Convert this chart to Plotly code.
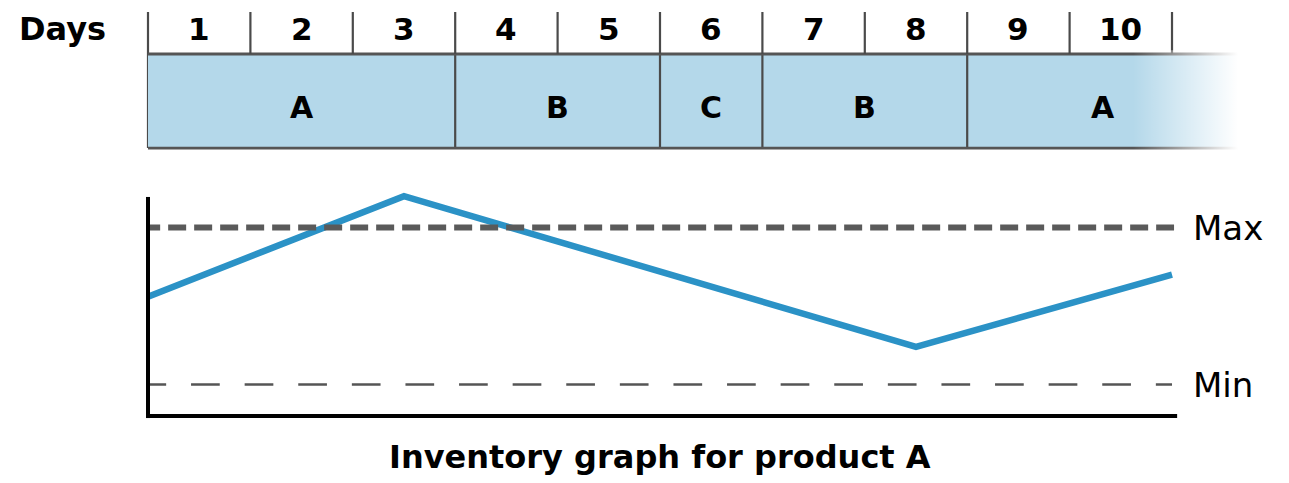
import plotly.graph_objects as go

# Production schedule (days are 1-based; runs use day boundaries)
days = list(range(1, 11))
run_products = ["A", "B", "C", "B", "A"]
run_start = [0, 3, 5, 6, 8]
run_end = [3, 5, 6, 8, 10.66]   # last run continues past the visible window

# Inventory level of product A over the 10 days
inv_day = [0, 2.5, 7.5, 10]
inv_level = [76, 140, 44, 90]
inv_max = 120
inv_min = 20

X_END = 10.664          # right edge of the view (schedule fades out)
FADE_START = 9.62
Y_RNG = [0, 145]
Y_DOM = [0.1387, 0.6101]
BLOCK_FILL = "#b4d8ea"
EDGE = "#4a4a4a"
BOLD = dict(family="DejaVu Sans", weight="bold", color="#000")


def ypaper(v):
    """Map an inventory value onto paper coordinates of the lower graph."""
    return Y_DOM[0] + (v - Y_RNG[0]) / (Y_RNG[1] - Y_RNG[0]) * (Y_DOM[1] - Y_DOM[0])


def xref_for(d):
    # lines sitting on the left edge use paper refs so they are not half clipped
    return "paper" if d == 0 else "x"


fig = go.Figure()

# inventory curve
fig.add_trace(go.Scatter(
    x=inv_day, y=inv_level, mode="lines",
    line=dict(color="#2b92c6", width=6.5),
    hoverinfo="skip", showlegend=False,
))

# Max / Min reference lines (started slightly left of the axis so the
# dash pattern is cut by the plot edge)
fig.add_trace(go.Scatter(
    x=[-0.057, 10.02], y=[inv_max, inv_max], mode="lines",
    line=dict(color="#5a5a5a", width=6, dash="18px,8px"),
    hoverinfo="skip", showlegend=False,
))
fig.add_trace(go.Scatter(
    x=[-0.103, 10.0], y=[inv_min, inv_min], mode="lines",
    line=dict(color="#555555", width=2.5, dash="28.7px,24.9px"),
    hoverinfo="skip", showlegend=False,
))

shapes = []

# schedule blocks
for p, s, e in zip(run_products, run_start, run_end):
    shapes.append(dict(type="rect", xref="x", yref="y2", x0=s, x1=e, y0=0, y1=1,
                       fillcolor=BLOCK_FILL, line=dict(width=0), layer="below"))
# run boundaries through the block
for s in run_start:
    shapes.append(dict(type="line", xref=xref_for(s), yref="y2", x0=s, x1=s, y0=0, y1=1,
                       line=dict(color=EDGE, width=2.2), layer="below"))
# top and bottom borders of the block row
for yb in (0, 1):
    shapes.append(dict(type="line", xref="x", yref="y2", x0=0, x1=X_END, y0=yb, y1=yb,
                       line=dict(color="#555555", width=2.8), layer="below"))
# day ticks in the header row
for d in [0] + days:
    shapes.append(dict(type="line", xref=xref_for(d), yref="y2", x0=d, x1=d, y0=1, y1=1.447,
                       line=dict(color=EDGE, width=2.2), layer="below"))

# white fade over the right end of the schedule row
fig.add_trace(go.Scatter(
    x=[FADE_START, X_END, X_END, FADE_START, FADE_START],
    y=[-0.04, -0.04, 1.04, 1.04, -0.04],
    xaxis="x", yaxis="y2", mode="lines", fill="toself",
    line=dict(width=0),
    fillgradient=dict(type="horizontal", start=FADE_START, stop=X_END - 0.02,
                      colorscale=[[0, "rgba(255,255,255,0)"], [1, "rgba(255,255,255,1)"]]),
    hoverinfo="skip", showlegend=False,
))

# axes of the inventory graph
shapes.append(dict(type="line", xref="paper", yref="paper", x0=0, x1=0,
                   y0=ypaper(-1.3), y1=ypaper(139.5),
                   line=dict(color="#000", width=4)))
shapes.append(dict(type="line", xref="x", yref="paper", x0=0, x1=10.05,
                   y0=ypaper(0), y1=ypaper(0),
                   line=dict(color="#000", width=4)))

annotations = []
annotations.append(dict(text="Days", xref="paper", yref="y2", x=-0.037, y=1.27,
                        xanchor="right", yanchor="middle", showarrow=False,
                        font=dict(size=32, **BOLD)))
for d in days:
    annotations.append(dict(text=str(d), xref="x", yref="y2", x=d - 0.5, y=1.27,
                            xanchor="center", yanchor="middle", showarrow=False,
                            font=dict(size=31, **BOLD)))
for p, s, e in zip(run_products, run_start, run_end):
    annotations.append(dict(text=p, xref="x", yref="y2", x=(s + e) / 2, y=0.43,
                            xanchor="center", yanchor="middle", showarrow=False,
                            font=dict(size=30, **BOLD)))
for label, val in (("Max", inv_max), ("Min", inv_min)):
    annotations.append(dict(text=label, xref="x", yref="y", x=10.19, y=val,
                            xanchor="left", yanchor="middle", showarrow=False,
                            font=dict(family="DejaVu Sans", size=34, color="#000")))
annotations.append(dict(text="Inventory graph for product A", xref="x", yref="paper",
                        x=5, y=0.054, xanchor="center", yanchor="middle", showarrow=False,
                        font=dict(size=32, **BOLD)))

fig.update_layout(
    width=1289, height=483,
    margin=dict(l=148, r=49, t=0, b=0),
    paper_bgcolor="white", plot_bgcolor="white",
    xaxis=dict(range=[0, X_END], visible=False, fixedrange=True),
    yaxis=dict(range=Y_RNG, domain=Y_DOM, visible=False, fixedrange=True),
    yaxis2=dict(range=[-0.05, 1.447], domain=[0.6838, 0.9752], visible=False,
                anchor="x", fixedrange=True),
    shapes=shapes,
    annotations=annotations,
    showlegend=False,
)

fig.write_html("out.html", config={"displayModeBar": False})
